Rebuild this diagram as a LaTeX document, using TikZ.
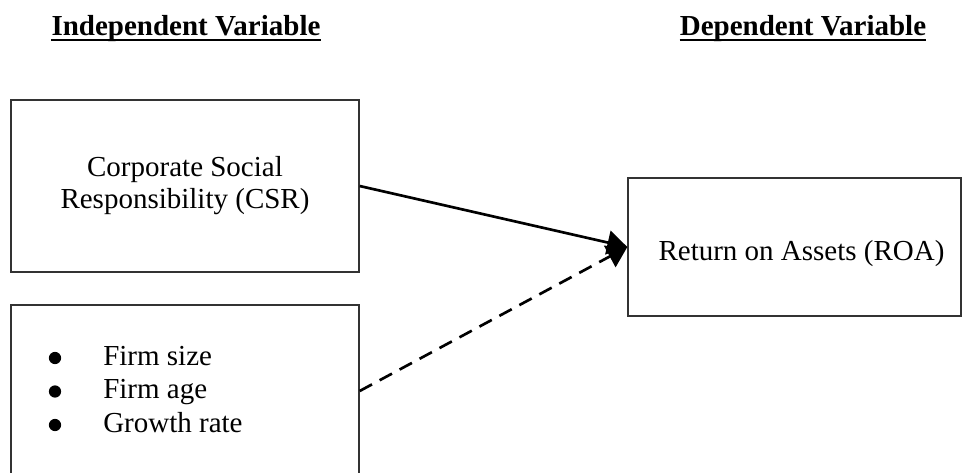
\documentclass[tikz,border=0pt]{standalone}
\usepackage{fontspec}
\setmainfont{Liberation Serif}
\usetikzlibrary{arrows.meta}
\begin{document}
\begin{tikzpicture}[x=0.75pt,y=-0.75pt,
  box/.style={draw=black!80, line width=1pt, inner sep=0pt},
  txt/.style={font=\fontsize{21.75}{24}\selectfont},
  hd/.style={font=\bfseries\fontsize{21.75}{24}\selectfont, inner sep=0pt},
  uline/.style={line width=1.6pt},
  bul/.style={fill=black},
  arr/.style={line width=2pt, -{Triangle[length=15pt,width=18pt]}},
  dsh/.style={dash pattern=on 10.5pt off 6.5pt}]
\useasboundingbox (0,0) rectangle (962,472);
\clip (0,0) rectangle (962,472);
\node[hd, anchor=base] (iv) at (186,35) {Independent Variable};
\node[hd, anchor=base] (dv) at (803,35) {Dependent Variable};
\draw[uline] ([yshift=-3.6pt]iv.base west) -- ([yshift=-3.6pt]iv.base east);
\draw[uline] ([yshift=-3.6pt]dv.base west) -- ([yshift=-3.6pt]dv.base east);
\node[box, txt, align=center, minimum width=261pt, minimum height=129pt] (csr) at (185,186) {Corporate Social\\Responsibility (CSR)};
\node[box, minimum width=261pt, minimum height=129pt] (ctrl) at (185,391) {};
\node[anchor=base west, inner sep=0pt, align=left, font=\fontsize{21.75}{25.1}\selectfont] (list) at (103,432)
  {Firm size\\Firm age\\Growth rate};
\fill[bul] ([shift={(-48,-74)}]list.base west) circle (4.6pt);
\fill[bul] ([shift={(-48,-40.5)}]list.base west) circle (4.6pt);
\fill[bul] ([shift={(-48,-7)}]list.base west) circle (4.6pt);
\node[box, minimum width=249.75pt, minimum height=103.5pt] (roa) at (794.5,247) {};
\node[txt, anchor=base, inner sep=0pt] (roatext) at (801.5,260) {Return on Assets (ROA)};
\draw[arr] (csr.east) -- (roa.west);
\draw[arr, dsh] (ctrl.east) -- (roa.west);
\end{tikzpicture}
\end{document}
